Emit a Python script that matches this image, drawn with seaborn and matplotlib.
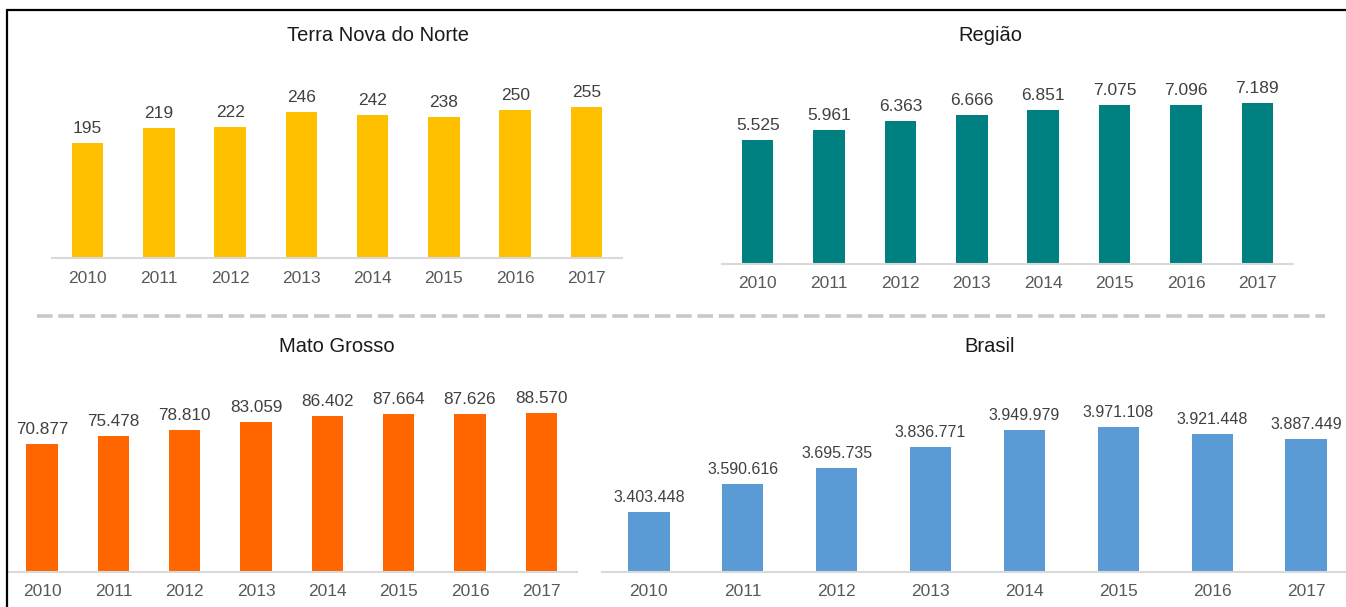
import matplotlib
matplotlib.use("Agg")
import matplotlib.pyplot as plt
import seaborn as sns
import pandas as pd
from matplotlib.lines import Line2D

years = ["2010", "2011", "2012", "2013", "2014", "2015", "2016", "2017"]
terra_nova = [195, 219, 222, 246, 242, 238, 250, 255]
regiao = [5525, 5961, 6363, 6666, 6851, 7075, 7096, 7189]
mato_grosso = [70877, 75478, 78810, 83059, 86402, 87664, 87626, 88570]
brasil = [3403448, 3590616, 3695735, 3836771, 3949979, 3971108, 3921448, 3887449]

titles = ["Terra Nova do Norte", "Região", "Mato Grosso", "Brasil"]
colors = ["#FFC000", "#008080", "#FF6600", "#5B9BD5"]

sns.set_style("white")
plt.rcParams["font.family"] = ["Liberation Sans", "DejaVu Sans"]

W, H = 1346, 607
fig = plt.figure(figsize=(W / 100, H / 100), dpi=100)

def px_axes(left, right, top, bottom):
    return fig.add_axes([left / W, 1 - bottom / H, (right - left) / W, (bottom - top) / H])

def fmt(v):
    return f"{v:,}".replace(",", ".")

# panel specs: (values, axes px box, ylim, title pos, value fontsize)
panels = [
    (terra_nova, (52, 622, 70, 258), (0, 317.6), (378, 41), 12.5),
    (regiao, (722, 1293, 70, 264), (0, 8653), (990, 41), 12.5),
    (mato_grosso, (6.5, 577, 380, 572), (0, 106667), (337, 352), 12.3),
    (brasil, (602, 1353, 380, 572), (3.0e6, 4.283e6), (990, 352), 11.5),
]

for (vals, box, ylim, tpos, vfs), title, color in zip(panels, titles, colors):
    ax = px_axes(*box)
    df = pd.DataFrame({"ano": years, "valor": vals})
    sns.barplot(data=df, x="ano", y="valor", color=color, width=0.44,
                saturation=1, ax=ax, edgecolor="none")
    ax.set_xlim(-0.5, len(years) - 0.5)
    ax.set_ylim(*ylim)
    ax.set_xlabel("")
    ax.set_ylabel("")
    ax.set_yticks([])
    for s in ["top", "right", "left"]:
        ax.spines[s].set_visible(False)
    ax.spines["bottom"].set_color("#D9D9D9")
    ax.spines["bottom"].set_linewidth(1.5)
    ax.tick_params(axis="x", length=0, pad=9, labelsize=12.5, labelcolor="#595959")
    ax.patch.set_alpha(0)
    for i, v in enumerate(vals):
        ax.annotate(fmt(v), (i, v), xytext=(0, 10), textcoords="offset pixels",
                    ha="center", va="baseline", fontsize=vfs, color="#404040")
    fig.text(tpos[0] / W, 1 - tpos[1] / H, title, ha="center", va="baseline",
             fontsize=14.5, color="#1A1A1A")

# dashed separator
fig.add_artist(Line2D([37 / W, 1325 / W], [1 - 316 / H, 1 - 316 / H],
                      transform=fig.transFigure, color="#C8C8C8", lw=2.6,
                      dashes=(4.3, 1.6)))
# outer frame (top and left visible)
fig.add_artist(Line2D([7 / W, 1.0], [1 - 10 / H, 1 - 10 / H],
                      transform=fig.transFigure, color="black", lw=1.6))
fig.add_artist(Line2D([7 / W, 7 / W], [0, 1 - 10 / H],
                      transform=fig.transFigure, color="black", lw=1.6))

fig.savefig("out.png", dpi=100, facecolor="white")
